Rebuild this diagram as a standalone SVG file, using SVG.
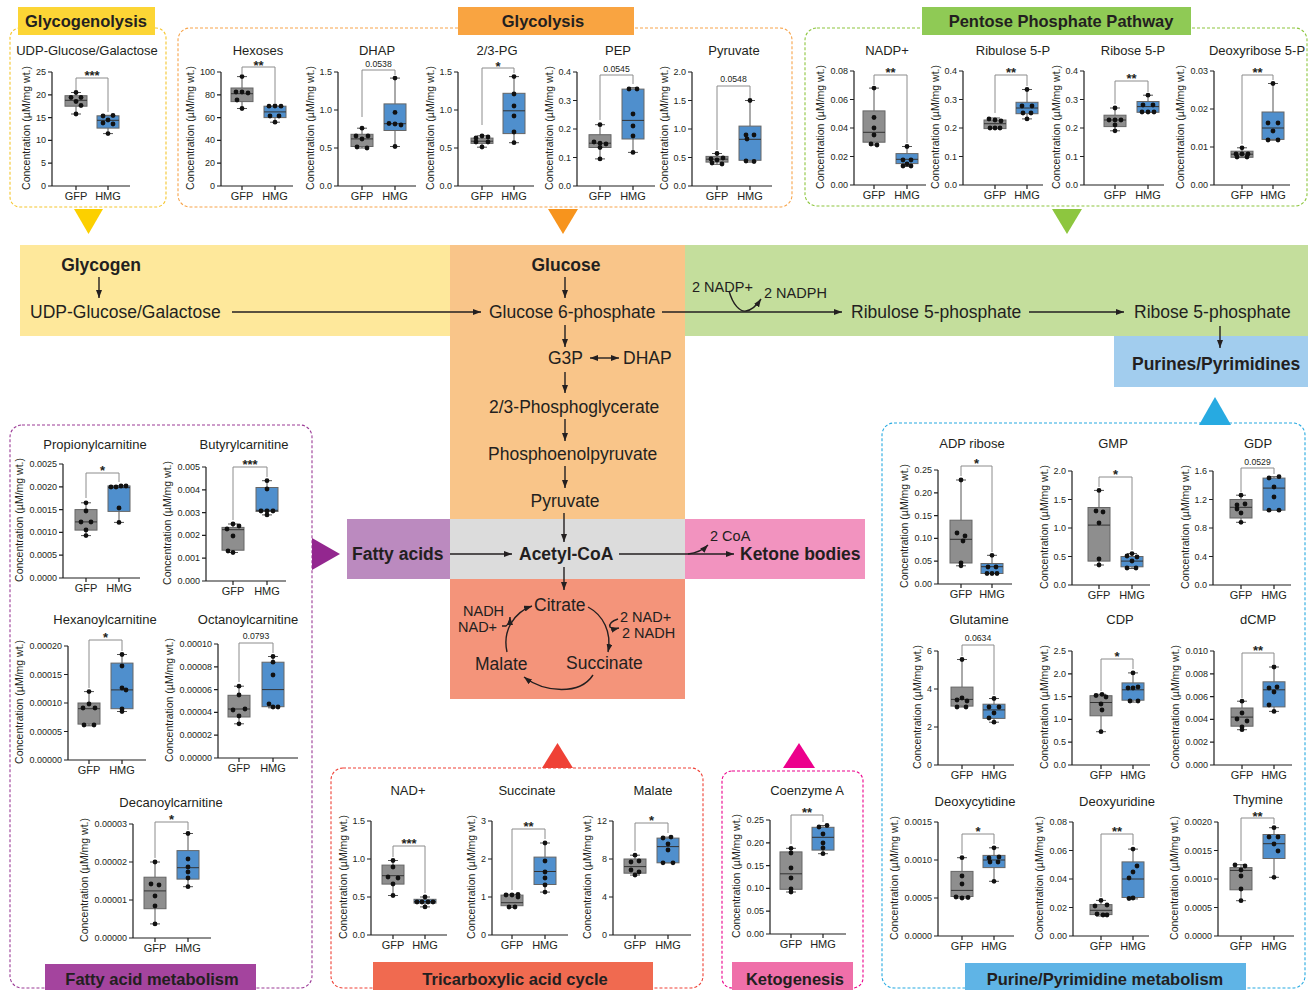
<svg xmlns="http://www.w3.org/2000/svg" xmlns:xlink="http://www.w3.org/1999/xlink" width="1309" height="990" viewBox="0 0 1309 990">
<style>
text{font-family:"Liberation Sans",Arial,sans-serif;fill:#231f20}
.ti{font-size:13px;text-anchor:middle}
.yl{font-size:10.5px;text-anchor:middle}
.tk{font-size:9px;text-anchor:end}
.xl{font-size:11px;text-anchor:middle}
.sg{font-size:13px;font-weight:bold;text-anchor:middle}
.pv{font-size:8.7px;text-anchor:middle}
.ax{fill:none;stroke:#1f1f1f;stroke-width:1.2}
.wk{fill:none;stroke:#555;stroke-width:1}
.bg{fill:#8e8e8e;stroke:#666;stroke-width:1}
.bb{fill:#4f8fcd;stroke:#666;stroke-width:1}
.md{fill:none;stroke:#333;stroke-width:1}
.br{fill:none;stroke:#8c8c8c;stroke-width:1}
.hd{font-size:16.5px;font-weight:bold;text-anchor:middle}
.mt{font-size:17.5px}
.mb{font-size:17.5px;font-weight:bold}
.sm{font-size:14.5px}
.ar{fill:none;stroke:#231f20;stroke-width:1.4;marker-end:url(#ah)}
.pd{fill:none;stroke-width:1.1;stroke-dasharray:3 2}
</style>
<defs>
<marker id="ah" viewBox="0 0 8 6" markerWidth="8" markerHeight="6" markerUnits="userSpaceOnUse" refX="8" refY="3" orient="auto-start-reverse"><path d="M0,0L8,3L0,6z" fill="#231f20"/></marker>
<circle id="d" r="2.4" fill="#111"/>
</defs>
<rect width="1309" height="990" fill="#fff"/>

<g id="bands">
<rect x="20" y="245" width="430" height="91" fill="#fee89b"/>
<rect x="450" y="245" width="235" height="274" fill="#f9c589"/>
<rect x="685" y="245" width="623" height="91" fill="#c4de9c"/>
<rect x="1114" y="336" width="194" height="51" fill="#a2cdee"/>
<rect x="347" y="519" width="103" height="60" fill="#bb8abf"/>
<rect x="450" y="519" width="235" height="60" fill="#dcdcdc"/>
<rect x="685" y="519" width="180" height="60" fill="#f293bf"/>
<rect x="450" y="579" width="235" height="120" fill="#f4947a"/>
</g>

<g id="connectors">
<path class="ar" d="M99,277V298"/>
<path class="ar" d="M232,312H481"/>
<path class="ar" d="M565,277V298"/>
<path class="ar" d="M662,312H842"/>
<path class="ar" d="M729,291C733,305 740,312 746,311C752,310 757,305 761,299"/>
<path class="ar" d="M1029,312H1124"/>
<path class="ar" d="M1220,326V348"/>
<path class="ar" d="M565,325V347"/>
<path class="ar" d="M590,358H619" marker-start="url(#ah)"/>
<path class="ar" d="M565,372V393"/>
<path class="ar" d="M565,419V441"/>
<path class="ar" d="M565,466V488"/>
<path class="ar" d="M564,513V542"/>
<path class="ar" d="M450,554H512"/>
<path class="ar" d="M619,554H734"/>
<path class="ar" d="M688,554C697,553 703,550 708,545"/>
<path class="ar" d="M564,567V590"/>
<path class="ar" d="M588,607C603,615 612,632 608,652"/>
<path class="ar" d="M593,675C580,695 545,693 524,677"/>
<path class="ar" d="M507,652C502,630 515,612 532,606"/>
<path class="ar" d="M502,626H506C509,624 510,621 510,617"/>
<path class="ar" d="M618,619C612,621 609,624 610,627C612,629 615,629 619,628"/>
</g>

<g id="pathway-labels">
<text class="mb" x="101" y="271" text-anchor="middle">Glycogen</text>
<text class="mt" x="30" y="318">UDP-Glucose/Galactose</text>
<text class="mb" x="566" y="271" text-anchor="middle">Glucose</text>
<text class="mt" x="489" y="318">Glucose 6-phosphate</text>
<text class="sm" x="692" y="292">2 NADP+</text>
<text class="sm" x="764" y="298">2 NADPH</text>
<text class="mt" x="851" y="318">Ribulose 5-phosphate</text>
<text class="mt" x="1134" y="318">Ribose 5-phosphate</text>
<text class="mb" x="1132" y="370">Purines/Pyrimidines</text>
<text class="mt" x="548" y="364">G3P</text>
<text class="mt" x="623" y="364">DHAP</text>
<text class="mt" x="489" y="413">2/3-Phosphoglycerate</text>
<text class="mt" x="488" y="460">Phosphoenolpyruvate</text>
<text class="mt" x="565" y="507" text-anchor="middle">Pyruvate</text>
<text class="mb" x="352" y="560">Fatty acids</text>
<text class="mb" x="519" y="560">Acetyl-CoA</text>
<text class="sm" x="710" y="541">2 CoA</text>
<text class="mb" x="740" y="560">Ketone bodies</text>
<text class="mt" x="534" y="611">Citrate</text>
<text class="mt" x="566" y="669">Succinate</text>
<text class="mt" x="475" y="670">Malate</text>
<text class="sm" x="463" y="616">NADH</text>
<text class="sm" x="458" y="632">NAD+</text>
<text class="sm" x="620" y="622">2 NAD+</text>
<text class="sm" x="622" y="638">2 NADH</text>
</g>

<g id="panel-glycogenolysis">
<rect class="pd" x="10" y="28" width="156" height="179" rx="10" stroke="#f5c62e"/>
<rect x="18" y="7" width="137" height="28" fill="#fcd535"/>
<text class="hd" x="86" y="27">Glycogenolysis</text>
<path d="M74,209H103L88.5,234z" fill="#fcd000"/>
</g>
<g id="panel-glycolysis">
<rect class="pd" x="178" y="28" width="614" height="179" rx="12" stroke="#f7a44a"/>
<rect x="458" y="7" width="176" height="28" fill="#f9a441"/>
<text class="hd" x="543" y="27">Glycolysis</text>
<path d="M548,209H578L563,234z" fill="#f7941d"/>
</g>
<g id="panel-ppp">
<rect class="pd" x="805" y="28" width="502" height="178" rx="12" stroke="#8dc63f"/>
<rect x="922" y="7" width="269" height="28" fill="#8fca55"/>
<text class="hd" x="1061" y="27">Pentose Phosphate Pathway</text>
<path d="M1052,209H1082L1067,234z" fill="#8dc63f"/>
</g>
<g id="panel-fatty">
<rect class="pd" x="10" y="425" width="302" height="563" rx="12" stroke="#9b3b96"/>
<path d="M312,538V570L340,554z" fill="#93278f"/>
</g>
<g id="panel-tca">
<rect class="pd" x="331" y="768" width="372" height="220" rx="12" stroke="#ef4136"/>
<path d="M542,768H573L557.5,743z" fill="#ef4136"/>
</g>
<g id="panel-keto">
<rect class="pd" x="722" y="771" width="141" height="217" rx="10" stroke="#ec008c"/>
<path d="M783,768H815L799,743z" fill="#ec008c"/>
</g>
<g id="panel-purine">
<rect class="pd" x="882" y="423" width="423" height="565" rx="12" stroke="#27aae1"/>
<path d="M1199,425H1231L1215,397z" fill="#27aae1"/>
</g>

<g id="plot-udp" transform="translate(52,186)">
<text class="ti" x="35" y="-131">UDP-Glucose/Galactose</text>
<text class="yl" transform="translate(-22,-58) rotate(-90)">Concentration (µM/mg wt.)</text>
<path class="ax" d="M0,-114V0H78M-4,0H0M-4,-22.8H0M-4,-45.6H0M-4,-68.4H0M-4,-91.2H0M-4,-114H0M24,0v4M56,0v4"/>
<text class="tk" x="-6" y="3">0</text><text class="tk" x="-6" y="-19.8">5</text><text class="tk" x="-6" y="-42.6">10</text><text class="tk" x="-6" y="-65.4">15</text><text class="tk" x="-6" y="-88.2">20</text><text class="tk" x="-6" y="-111">25</text>
<path class="wk" d="M24,-93.5V-90.3M24,-79.8V-72M19,-93.5h10M19,-72h10"/>
<rect class="bg" x="13" y="-90.3" width="22" height="10.5"/>
<path class="md" d="M13,-85.7h22"/>
<use href="#d" x="24" y="-93.5"/><use href="#d" x="19" y="-88.5"/><use href="#d" x="29" y="-88.5"/><use href="#d" x="24" y="-84.5"/><use href="#d" x="29" y="-80.5"/><use href="#d" x="24" y="-72"/>
<path class="wk" d="M56,-70.7V-70.2M56,-57.9V-52.4M51,-70.7h10M51,-52.4h10"/>
<rect class="bb" x="45" y="-70.2" width="22" height="12.3"/>
<path class="md" d="M45,-65.7h22"/>
<use href="#d" x="51" y="-70"/><use href="#d" x="61" y="-70.5"/><use href="#d" x="56" y="-66"/><use href="#d" x="51" y="-63"/><use href="#d" x="61" y="-62"/><use href="#d" x="56" y="-52.4"/>
<path class="br" d="M24,-96V-108H56V-74"/>
<text class="sg" x="40" y="-106">***</text>
<text class="xl" x="24" y="14">GFP</text><text class="xl" x="56" y="14">HMG</text>
</g>

<g id="plot-hexoses" transform="translate(221,186)">
<text class="ti" x="37" y="-131">Hexoses</text>
<text class="yl" transform="translate(-27,-58) rotate(-90)">Concentration (µM/mg wt.)</text>
<path class="ax" d="M0,-114V0H72M-4,0H0M-4,-22.8H0M-4,-45.6H0M-4,-68.4H0M-4,-91.2H0M-4,-114H0M21,0v4M54,0v4"/>
<text class="tk" x="-6" y="3">0</text><text class="tk" x="-6" y="-19.8">20</text><text class="tk" x="-6" y="-42.6">40</text><text class="tk" x="-6" y="-65.4">60</text><text class="tk" x="-6" y="-88.2">80</text><text class="tk" x="-6" y="-111">100</text>
<path class="wk" d="M21,-109.4V-98M21,-84.4V-77.5M16,-109.4h10M16,-77.5h10"/>
<rect class="bg" x="10" y="-98" width="22" height="13.6"/>
<path class="md" d="M10,-92.3h22"/>
<use href="#d" x="21" y="-109.4"/><use href="#d" x="15" y="-94"/><use href="#d" x="21" y="-94"/><use href="#d" x="27" y="-93"/><use href="#d" x="16" y="-86"/><use href="#d" x="21" y="-77.5"/>
<path class="wk" d="M54,-68.4V-63.8M49,-79.8h10M49,-63.8h10"/>
<rect class="bb" x="43" y="-79.8" width="22" height="11.4"/>
<path class="md" d="M43,-74.1h22"/>
<use href="#d" x="48" y="-79.8"/><use href="#d" x="54" y="-80"/><use href="#d" x="60" y="-79.8"/><use href="#d" x="49" y="-70"/><use href="#d" x="58" y="-70"/><use href="#d" x="54" y="-63.8"/>
<path class="br" d="M21,-112V-119H54V-83"/>
<text class="sg" x="37.5" y="-116">**</text>
<text class="xl" x="21" y="14">GFP</text><text class="xl" x="54" y="14">HMG</text>
</g>

<g id="plot-dhap" transform="translate(338,186)">
<text class="ti" x="39" y="-131">DHAP</text>
<text class="yl" transform="translate(-24,-58) rotate(-90)">Concentration (µM/mg wt.)</text>
<path class="ax" d="M0,-114V0H78M-4,0H0M-4,-38H0M-4,-76H0M-4,-114H0M24,0v4M57,0v4"/>
<text class="tk" x="-6" y="3">0.0</text><text class="tk" x="-6" y="-35">0.5</text><text class="tk" x="-6" y="-73">1.0</text><text class="tk" x="-6" y="-111">1.5</text>
<path class="wk" d="M24,-57.8V-51.7M24,-39.5V-38M19,-57.8h10M19,-38h10"/>
<rect class="bg" x="13" y="-51.7" width="22" height="12.2"/>
<path class="md" d="M13,-47.1h22"/>
<use href="#d" x="24" y="-57.8"/><use href="#d" x="18" y="-50"/><use href="#d" x="30" y="-50"/><use href="#d" x="24" y="-47"/><use href="#d" x="19" y="-39"/><use href="#d" x="29" y="-38"/>
<path class="wk" d="M57,-107.9V-82.1M57,-55.5V-39.5M52,-107.9h10M52,-39.5h10"/>
<rect class="bb" x="46" y="-82.1" width="22" height="26.6"/>
<path class="md" d="M46,-62.3h22"/>
<use href="#d" x="57" y="-107.9"/><use href="#d" x="57" y="-73.6"/><use href="#d" x="51" y="-62.5"/><use href="#d" x="57" y="-62"/><use href="#d" x="63" y="-61"/><use href="#d" x="57" y="-39.5"/>
<path class="br" d="M24,-69V-116H57V-111"/>
<text class="pv" x="40.5" y="-119">0.0538</text>
<text class="xl" x="24" y="14">GFP</text><text class="xl" x="57" y="14">HMG</text>
</g>

<g id="plot-23pg" transform="translate(458,186)">
<text class="ti" x="39" y="-131">2/3-PG</text>
<text class="yl" transform="translate(-24,-58) rotate(-90)">Concentration (µM/mg wt.)</text>
<path class="ax" d="M0,-114V0H76M-4,0H0M-4,-38H0M-4,-76H0M-4,-114H0M24,0v4M56,0v4"/>
<text class="tk" x="-6" y="3">0.0</text><text class="tk" x="-6" y="-35">0.5</text><text class="tk" x="-6" y="-73">1.0</text><text class="tk" x="-6" y="-111">1.5</text>
<path class="wk" d="M24,-50.2V-47.9M24,-42.6V-38.8M19,-50.2h10M19,-38.8h10"/>
<rect class="bg" x="13" y="-47.9" width="22" height="5.3"/>
<path class="md" d="M13,-44.8h22"/>
<use href="#d" x="18" y="-48"/><use href="#d" x="24" y="-50"/><use href="#d" x="30" y="-49"/><use href="#d" x="18" y="-44"/><use href="#d" x="30" y="-44"/><use href="#d" x="24" y="-39"/>
<path class="wk" d="M56,-109.4V-92.7M56,-52.4V-43.3M51,-109.4h10M51,-43.3h10"/>
<rect class="bb" x="45" y="-92.7" width="22" height="40.3"/>
<path class="md" d="M45,-75.2h22"/>
<use href="#d" x="56" y="-109.4"/><use href="#d" x="56" y="-92"/><use href="#d" x="56" y="-80"/><use href="#d" x="56" y="-70"/><use href="#d" x="56" y="-54"/><use href="#d" x="56" y="-43.3"/>
<path class="br" d="M24,-61V-118H56V-113"/>
<text class="sg" x="40" y="-115">*</text>
<text class="xl" x="24" y="14">GFP</text><text class="xl" x="56" y="14">HMG</text>
</g>

<g id="plot-pep" transform="translate(577,186)">
<text class="ti" x="41" y="-131">PEP</text>
<text class="yl" transform="translate(-24,-58) rotate(-90)">Concentration (µM/mg wt.)</text>
<path class="ax" d="M0,-114V0H78M-4,0H0M-4,-28.5H0M-4,-57H0M-4,-85.5H0M-4,-114H0M23,0v4M56,0v4"/>
<text class="tk" x="-6" y="3">0.0</text><text class="tk" x="-6" y="-25.5">0.1</text><text class="tk" x="-6" y="-54">0.2</text><text class="tk" x="-6" y="-82.5">0.3</text><text class="tk" x="-6" y="-111">0.4</text>
<path class="wk" d="M23,-61.3V-51.3M23,-38.5V-27.1M18,-61.3h10M18,-27.1h10"/>
<rect class="bg" x="12" y="-51.3" width="22" height="12.8"/>
<path class="md" d="M12,-42.8h22"/>
<use href="#d" x="23" y="-61.3"/><use href="#d" x="17" y="-44"/><use href="#d" x="23" y="-42.8"/><use href="#d" x="29" y="-42"/><use href="#d" x="23" y="-38.5"/><use href="#d" x="23" y="-27.1"/>
<path class="wk" d="M56,-98.3V-96.9M56,-47V-33.6M51,-98.3h10M51,-33.6h10"/>
<rect class="bb" x="45" y="-96.9" width="22" height="49.9"/>
<path class="md" d="M45,-65.6h22"/>
<use href="#d" x="52" y="-97"/><use href="#d" x="60" y="-97"/><use href="#d" x="56" y="-72"/><use href="#d" x="56" y="-60"/><use href="#d" x="56" y="-50"/><use href="#d" x="56" y="-33.6"/>
<path class="br" d="M23,-66V-111H56V-102"/>
<text class="pv" x="39.5" y="-114.5">0.0545</text>
<text class="xl" x="23" y="14">GFP</text><text class="xl" x="56" y="14">HMG</text>
</g>

<g id="plot-pyruvate" transform="translate(692,186)">
<text class="ti" x="42" y="-131">Pyruvate</text>
<text class="yl" transform="translate(-24,-58) rotate(-90)">Concentration (µM/mg wt.)</text>
<path class="ax" d="M0,-114V0H80M-4,0H0M-4,-28.5H0M-4,-57H0M-4,-85.5H0M-4,-114H0M25,0v4M58,0v4"/>
<text class="tk" x="-6" y="3">0.0</text><text class="tk" x="-6" y="-25.5">0.5</text><text class="tk" x="-6" y="-54">1.0</text><text class="tk" x="-6" y="-82.5">1.5</text><text class="tk" x="-6" y="-111">2.0</text>
<path class="wk" d="M25,-32.5V-29.6M25,-23.9V-21.7M20,-32.5h10M20,-21.7h10"/>
<rect class="bg" x="14" y="-29.6" width="22" height="5.7"/>
<path class="md" d="M14,-26.8h22"/>
<use href="#d" x="25" y="-32.5"/><use href="#d" x="19" y="-27"/><use href="#d" x="31" y="-28"/><use href="#d" x="25" y="-26"/><use href="#d" x="20" y="-23"/><use href="#d" x="30" y="-22"/>
<path class="wk" d="M58,-85.5V-59.9M58,-25.7V-23.9M53,-85.5h10M53,-23.9h10"/>
<rect class="bb" x="47" y="-59.9" width="22" height="34.2"/>
<path class="md" d="M47,-46.7h22"/>
<use href="#d" x="58" y="-85.5"/><use href="#d" x="54" y="-51"/><use href="#d" x="62" y="-51"/><use href="#d" x="55" y="-47"/><use href="#d" x="54" y="-25"/><use href="#d" x="62" y="-24.5"/>
<path class="br" d="M25,-36V-100H58V-88"/>
<text class="pv" x="41.5" y="-104">0.0548</text>
<text class="xl" x="25" y="14">GFP</text><text class="xl" x="58" y="14">HMG</text>
</g>

<g id="plot-nadp" transform="translate(854,185)">
<text class="ti" x="33" y="-130">NADP+</text>
<text class="yl" transform="translate(-30,-58) rotate(-90)">Concentration (µM/mg wt.)</text>
<path class="ax" d="M0,-114V0H72M-4,0H0M-4,-28.5H0M-4,-57H0M-4,-85.5H0M-4,-114H0M20,0v4M53,0v4"/>
<text class="tk" x="-6" y="3">0.00</text><text class="tk" x="-6" y="-25.5">0.02</text><text class="tk" x="-6" y="-54">0.04</text><text class="tk" x="-6" y="-82.5">0.06</text><text class="tk" x="-6" y="-111">0.08</text>
<path class="wk" d="M20,-96.9V-74.1M20,-42.8V-39.9M15,-96.9h10M15,-39.9h10"/>
<rect class="bg" x="9" y="-74.1" width="22" height="31.3"/>
<path class="md" d="M9,-52.7h22"/>
<use href="#d" x="20" y="-96.9"/><use href="#d" x="20" y="-67.5"/><use href="#d" x="20" y="-57"/><use href="#d" x="20" y="-50"/><use href="#d" x="17" y="-41"/><use href="#d" x="23" y="-40"/>
<path class="wk" d="M53,-38.5V-31.4M53,-21.4V-18.5M48,-38.5h10M48,-18.5h10"/>
<rect class="bb" x="42" y="-31.4" width="22" height="10"/>
<path class="md" d="M42,-25.7h22"/>
<use href="#d" x="53" y="-38.5"/><use href="#d" x="49" y="-25"/><use href="#d" x="57" y="-25"/><use href="#d" x="53" y="-21"/><use href="#d" x="49" y="-19"/><use href="#d" x="57" y="-19"/>
<path class="br" d="M20,-100V-110H53V-42"/>
<text class="sg" x="36.5" y="-108">**</text>
<text class="xl" x="20" y="14">GFP</text><text class="xl" x="53" y="14">HMG</text>
</g>

<g id="plot-ribulose" transform="translate(963,185)">
<text class="ti" x="50" y="-130">Ribulose 5-P</text>
<text class="yl" transform="translate(-24,-58) rotate(-90)">Concentration (µM/mg wt.)</text>
<path class="ax" d="M0,-114V0H80M-4,0H0M-4,-28.5H0M-4,-57H0M-4,-85.5H0M-4,-114H0M32,0v4M64,0v4"/>
<text class="tk" x="-6" y="3">0.0</text><text class="tk" x="-6" y="-25.5">0.1</text><text class="tk" x="-6" y="-54">0.2</text><text class="tk" x="-6" y="-82.5">0.3</text><text class="tk" x="-6" y="-111">0.4</text>
<path class="wk" d="M32,-67V-65M27,-67h10M27,-56.4h10"/>
<rect class="bg" x="21" y="-65" width="22" height="8.6"/>
<path class="md" d="M21,-61.3h22"/>
<use href="#d" x="26" y="-66"/><use href="#d" x="32" y="-65"/><use href="#d" x="38" y="-64"/><use href="#d" x="27" y="-57"/><use href="#d" x="32" y="-57"/><use href="#d" x="37" y="-57"/>
<path class="wk" d="M64,-95.5V-82.7M64,-71.3V-66.1M59,-95.5h10M59,-66.1h10"/>
<rect class="bb" x="53" y="-82.7" width="22" height="11.4"/>
<path class="md" d="M53,-77h22"/>
<use href="#d" x="64" y="-95.5"/><use href="#d" x="59" y="-79"/><use href="#d" x="69" y="-79"/><use href="#d" x="60" y="-72"/><use href="#d" x="68" y="-72"/><use href="#d" x="64" y="-66.1"/>
<path class="br" d="M32,-72V-110H64V-99"/>
<text class="sg" x="48" y="-108">**</text>
<text class="xl" x="32" y="14">GFP</text><text class="xl" x="64" y="14">HMG</text>
</g>

<g id="plot-ribose" transform="translate(1084,185)">
<text class="ti" x="49" y="-130">Ribose 5-P</text>
<text class="yl" transform="translate(-24,-58) rotate(-90)">Concentration (µM/mg wt.)</text>
<path class="ax" d="M0,-114V0H80M-4,0H0M-4,-28.5H0M-4,-57H0M-4,-85.5H0M-4,-114H0M31,0v4M64,0v4"/>
<text class="tk" x="-6" y="3">0.0</text><text class="tk" x="-6" y="-25.5">0.1</text><text class="tk" x="-6" y="-54">0.2</text><text class="tk" x="-6" y="-82.5">0.3</text><text class="tk" x="-6" y="-111">0.4</text>
<path class="wk" d="M31,-77V-69.8M31,-58.4V-54.2M26,-77h10M26,-54.2h10"/>
<rect class="bg" x="20" y="-69.8" width="22" height="11.4"/>
<path class="md" d="M20,-65h22"/>
<use href="#d" x="31" y="-77"/><use href="#d" x="25" y="-65"/><use href="#d" x="31" y="-65"/><use href="#d" x="37" y="-65"/><use href="#d" x="31" y="-60"/><use href="#d" x="31" y="-54.2"/>
<path class="wk" d="M64,-89.8V-83.5M59,-89.8h10M59,-72.7h10"/>
<rect class="bb" x="53" y="-83.5" width="22" height="10.8"/>
<path class="md" d="M53,-78.4h22"/>
<use href="#d" x="64" y="-89.8"/><use href="#d" x="59" y="-80"/><use href="#d" x="69" y="-80"/><use href="#d" x="58" y="-73"/><use href="#d" x="64" y="-73"/><use href="#d" x="70" y="-73"/>
<path class="br" d="M31,-81V-104H64V-93"/>
<text class="sg" x="47.5" y="-102">**</text>
<text class="xl" x="31" y="14">GFP</text><text class="xl" x="64" y="14">HMG</text>
</g>

<g id="plot-deoxyribose" transform="translate(1214,185)">
<text class="ti" x="43" y="-130">Deoxyribose 5-P</text>
<text class="yl" transform="translate(-30,-58) rotate(-90)">Concentration (µM/mg wt.)</text>
<path class="ax" d="M0,-114V0H76M-4,0H0M-4,-38H0M-4,-76H0M-4,-114H0M28,0v4M59,0v4"/>
<text class="tk" x="-6" y="3">0.00</text><text class="tk" x="-6" y="-35">0.01</text><text class="tk" x="-6" y="-73">0.02</text><text class="tk" x="-6" y="-111">0.03</text>
<path class="wk" d="M28,-37.2V-33.8M28,-27.7V-27.4M23,-37.2h10M23,-27.4h10"/>
<rect class="bg" x="17" y="-33.8" width="22" height="6.1"/>
<path class="md" d="M17,-30.8h22"/>
<use href="#d" x="28" y="-37.2"/><use href="#d" x="22" y="-31"/><use href="#d" x="28" y="-31"/><use href="#d" x="34" y="-31"/><use href="#d" x="23" y="-28"/><use href="#d" x="33" y="-28"/>
<path class="wk" d="M59,-101.5V-73M59,-45.6V-44.8M54,-101.5h10M54,-44.8h10"/>
<rect class="bb" x="48" y="-73" width="22" height="27.4"/>
<path class="md" d="M48,-57h22"/>
<use href="#d" x="59" y="-101.5"/><use href="#d" x="54" y="-62"/><use href="#d" x="64" y="-62"/><use href="#d" x="59" y="-54"/><use href="#d" x="54" y="-45"/><use href="#d" x="64" y="-45"/>
<path class="br" d="M28,-41V-110H59V-105"/>
<text class="sg" x="43.5" y="-108">**</text>
<text class="xl" x="28" y="14">GFP</text><text class="xl" x="59" y="14">HMG</text>
</g>

<g id="plot-propionyl" transform="translate(63,578)">
<text class="ti" x="32" y="-129">Propionylcarnitine</text>
<text class="yl" transform="translate(-40,-58) rotate(-90)">Concentration (µM/mg wt.)</text>
<path class="ax" d="M0,-114V0H77M-4,0H0M-4,-22.8H0M-4,-45.6H0M-4,-68.4H0M-4,-91.2H0M-4,-114H0M23,0v4M56,0v4"/>
<text class="tk" x="-6" y="3">0.0000</text><text class="tk" x="-6" y="-19.8">0.0005</text><text class="tk" x="-6" y="-42.6">0.0010</text><text class="tk" x="-6" y="-65.4">0.0015</text><text class="tk" x="-6" y="-88.2">0.0020</text><text class="tk" x="-6" y="-111">0.0025</text>
<path class="wk" d="M23,-75.2V-68.4M23,-47.9V-42.4M18,-75.2h10M18,-42.4h10"/>
<rect class="bg" x="12" y="-68.4" width="22" height="20.5"/>
<path class="md" d="M12,-56.1h22"/>
<use href="#d" x="23" y="-75.2"/><use href="#d" x="23" y="-67"/><use href="#d" x="18" y="-56"/><use href="#d" x="28" y="-56"/><use href="#d" x="23" y="-48"/><use href="#d" x="23" y="-42.4"/>
<path class="wk" d="M56,-66.6V-55.6M51,-92.1h10M51,-55.6h10"/>
<rect class="bb" x="45" y="-92.1" width="22" height="25.5"/>
<path class="md" d="M45,-90.3h22"/>
<use href="#d" x="48" y="-91"/><use href="#d" x="53" y="-91"/><use href="#d" x="58" y="-92"/><use href="#d" x="63" y="-92"/><use href="#d" x="56" y="-70"/><use href="#d" x="56" y="-55.6"/>
<path class="br" d="M23,-80V-105H56V-96"/>
<text class="sg" x="39.5" y="-103">*</text>
<text class="xl" x="23" y="14">GFP</text><text class="xl" x="56" y="14">HMG</text>
</g>

<g id="plot-butyryl" transform="translate(206,581)">
<text class="ti" x="38" y="-132">Butyrylcarnitine</text>
<text class="yl" transform="translate(-35,-58) rotate(-90)">Concentration (µM/mg wt.)</text>
<path class="ax" d="M0,-114V0H80M-4,0H0M-4,-22.8H0M-4,-45.6H0M-4,-68.4H0M-4,-91.2H0M-4,-114H0M27,0v4M61,0v4"/>
<text class="tk" x="-6" y="3">0.000</text><text class="tk" x="-6" y="-19.8">0.001</text><text class="tk" x="-6" y="-42.6">0.002</text><text class="tk" x="-6" y="-65.4">0.003</text><text class="tk" x="-6" y="-88.2">0.004</text><text class="tk" x="-6" y="-111">0.005</text>
<path class="wk" d="M27,-57V-53.6M27,-30.8V-28.5M22,-57h10M22,-28.5h10"/>
<rect class="bg" x="16" y="-53.6" width="22" height="22.8"/>
<path class="md" d="M16,-51.3h22"/>
<use href="#d" x="27" y="-57"/><use href="#d" x="21" y="-52"/><use href="#d" x="33" y="-55"/><use href="#d" x="27" y="-45"/><use href="#d" x="22" y="-30"/><use href="#d" x="27" y="-28.5"/>
<path class="wk" d="M61,-100.3V-93.5M61,-69.5V-66.1M56,-100.3h10M56,-66.1h10"/>
<rect class="bb" x="50" y="-93.5" width="22" height="24"/>
<path class="md" d="M50,-70.7h22"/>
<use href="#d" x="61" y="-100.3"/><use href="#d" x="61" y="-92"/><use href="#d" x="55" y="-70"/><use href="#d" x="61" y="-70"/><use href="#d" x="67" y="-70"/><use href="#d" x="61" y="-66.1"/>
<path class="br" d="M27,-61V-114H61V-104"/>
<text class="sg" x="44" y="-112">***</text>
<text class="xl" x="27" y="14">GFP</text><text class="xl" x="61" y="14">HMG</text>
</g>

<g id="plot-hexanoyl" transform="translate(68,760)">
<text class="ti" x="37" y="-136">Hexanoylcarnitine</text>
<text class="yl" transform="translate(-45,-58) rotate(-90)">Concentration (µM/mg wt.)</text>
<path class="ax" d="M0,-114V0H78M-4,0H0M-4,-28.5H0M-4,-57H0M-4,-85.5H0M-4,-114H0M21,0v4M54,0v4"/>
<text class="tk" x="-6" y="3">0.00000</text><text class="tk" x="-6" y="-25.5">0.00005</text><text class="tk" x="-6" y="-54">0.00010</text><text class="tk" x="-6" y="-82.5">0.00015</text><text class="tk" x="-6" y="-111">0.00020</text>
<path class="wk" d="M21,-68.4V-57M21,-35.9V-34.2M16,-68.4h10M16,-34.2h10"/>
<rect class="bg" x="10" y="-57" width="22" height="21.1"/>
<path class="md" d="M10,-51.3h22"/>
<use href="#d" x="21" y="-68.4"/><use href="#d" x="21" y="-56"/><use href="#d" x="15" y="-52"/><use href="#d" x="27" y="-52"/><use href="#d" x="16" y="-35"/><use href="#d" x="26" y="-35"/>
<path class="wk" d="M54,-105.5V-96.9M54,-51.3V-48.5M49,-105.5h10M49,-48.5h10"/>
<rect class="bb" x="43" y="-96.9" width="22" height="45.6"/>
<path class="md" d="M43,-70.1h22"/>
<use href="#d" x="54" y="-105.5"/><use href="#d" x="54" y="-94"/><use href="#d" x="54" y="-72"/><use href="#d" x="58" y="-70"/><use href="#d" x="54" y="-51"/><use href="#d" x="54" y="-48.5"/>
<path class="br" d="M21,-72V-120H54V-109"/>
<text class="sg" x="37.5" y="-118">*</text>
<text class="xl" x="21" y="14">GFP</text><text class="xl" x="54" y="14">HMG</text>
</g>

<g id="plot-octanoyl" transform="translate(218,758)">
<text class="ti" x="30" y="-134">Octanoylcarnitine</text>
<text class="yl" transform="translate(-45,-58) rotate(-90)">Concentration (µM/mg wt.)</text>
<path class="ax" d="M0,-114V0H80M-4,0H0M-4,-22.8H0M-4,-45.6H0M-4,-68.4H0M-4,-91.2H0M-4,-114H0M21,0v4M55,0v4"/>
<text class="tk" x="-6" y="3">0.00000</text><text class="tk" x="-6" y="-19.8">0.00002</text><text class="tk" x="-6" y="-42.6">0.00004</text><text class="tk" x="-6" y="-65.4">0.00006</text><text class="tk" x="-6" y="-88.2">0.00008</text><text class="tk" x="-6" y="-111">0.00010</text>
<path class="wk" d="M21,-71.8V-62.7M21,-41V-34.2M16,-71.8h10M16,-34.2h10"/>
<rect class="bg" x="10" y="-62.7" width="22" height="21.7"/>
<path class="md" d="M10,-49h22"/>
<use href="#d" x="21" y="-71.8"/><use href="#d" x="21" y="-63"/><use href="#d" x="15" y="-48"/><use href="#d" x="27" y="-49"/><use href="#d" x="21" y="-42"/><use href="#d" x="21" y="-34.2"/>
<path class="wk" d="M55,-101.5V-95.8M55,-51.3V-50.2M50,-101.5h10M50,-50.2h10"/>
<rect class="bb" x="44" y="-95.8" width="22" height="44.5"/>
<path class="md" d="M44,-68.4h22"/>
<use href="#d" x="55" y="-101.5"/><use href="#d" x="55" y="-95.8"/><use href="#d" x="55" y="-83"/><use href="#d" x="51" y="-54"/><use href="#d" x="55" y="-51"/><use href="#d" x="60" y="-51"/>
<path class="br" d="M21,-76V-115H55V-105"/>
<text class="pv" x="38" y="-119">0.0793</text>
<text class="xl" x="21" y="14">GFP</text><text class="xl" x="55" y="14">HMG</text>
</g>

<g id="plot-decanoyl" transform="translate(133,938)">
<text class="ti" x="38" y="-131">Decanoylcarnitine</text>
<text class="yl" transform="translate(-45,-58) rotate(-90)">Concentration (µM/mg wt.)</text>
<path class="ax" d="M0,-114V0H78M-4,0H0M-4,-38H0M-4,-76H0M-4,-114H0M22,0v4M55,0v4"/>
<text class="tk" x="-6" y="3">0.00000</text><text class="tk" x="-6" y="-35">0.00001</text><text class="tk" x="-6" y="-73">0.00002</text><text class="tk" x="-6" y="-111">0.00003</text>
<path class="wk" d="M22,-76V-60.8M22,-29.3V-14.1M17,-76h10M17,-14.1h10"/>
<rect class="bg" x="11" y="-60.8" width="22" height="31.5"/>
<path class="md" d="M11,-47.1h22"/>
<use href="#d" x="22" y="-76"/><use href="#d" x="18" y="-54"/><use href="#d" x="26" y="-53"/><use href="#d" x="22" y="-42"/><use href="#d" x="22" y="-32"/><use href="#d" x="22" y="-14.1"/>
<path class="wk" d="M55,-104.5V-87.4M55,-58.9V-51.3M50,-104.5h10M50,-51.3h10"/>
<rect class="bb" x="44" y="-87.4" width="22" height="28.5"/>
<path class="md" d="M44,-70.3h22"/>
<use href="#d" x="55" y="-104.5"/><use href="#d" x="55" y="-79"/><use href="#d" x="55" y="-71"/><use href="#d" x="55" y="-66"/><use href="#d" x="55" y="-60"/><use href="#d" x="55" y="-51.3"/>
<path class="br" d="M22,-80V-116H55V-108"/>
<text class="sg" x="38.5" y="-114">*</text>
<text class="xl" x="22" y="14">GFP</text><text class="xl" x="55" y="14">HMG</text>
</g>

<g id="plot-nad" transform="translate(371,935)">
<text class="ti" x="37" y="-140">NAD+</text>
<text class="yl" transform="translate(-24,-58) rotate(-90)">Concentration (µM/mg wt.)</text>
<path class="ax" d="M0,-114V0H76M-4,0H0M-4,-38H0M-4,-76H0M-4,-114H0M22,0v4M54,0v4"/>
<text class="tk" x="-6" y="3">0.0</text><text class="tk" x="-6" y="-35">0.5</text><text class="tk" x="-6" y="-73">1.0</text><text class="tk" x="-6" y="-111">1.5</text>
<path class="wk" d="M22,-74.5V-69.9M22,-50.9V-39.5M17,-74.5h10M17,-39.5h10"/>
<rect class="bg" x="11" y="-69.9" width="22" height="19"/>
<path class="md" d="M11,-59.3h22"/>
<use href="#d" x="22" y="-74.5"/><use href="#d" x="22" y="-68"/><use href="#d" x="17" y="-58"/><use href="#d" x="27" y="-57"/><use href="#d" x="22" y="-51"/><use href="#d" x="22" y="-39.5"/>
<path class="wk" d="M54,-38V-35.7M54,-31.9V-28.1M49,-38h10M49,-28.1h10"/>
<rect class="bb" x="43" y="-35.7" width="22" height="3.8"/>
<path class="md" d="M43,-33.4h22"/>
<use href="#d" x="54" y="-38"/><use href="#d" x="46" y="-33"/><use href="#d" x="51" y="-33"/><use href="#d" x="57" y="-33"/><use href="#d" x="62" y="-33"/><use href="#d" x="54" y="-28.1"/>
<path class="br" d="M22,-78V-89H54V-42"/>
<text class="sg" x="38" y="-87">***</text>
<text class="xl" x="22" y="14">GFP</text><text class="xl" x="54" y="14">HMG</text>
</g>

<g id="plot-succinate" transform="translate(492,935)">
<text class="ti" x="35" y="-140">Succinate</text>
<text class="yl" transform="translate(-17,-58) rotate(-90)">Concentration (µM/mg wt.)</text>
<path class="ax" d="M0,-114V0H76M-4,0H0M-4,-38H0M-4,-76H0M-4,-114H0M20,0v4M53,0v4"/>
<text class="tk" x="-6" y="3">0</text><text class="tk" x="-6" y="-35">1</text><text class="tk" x="-6" y="-73">2</text><text class="tk" x="-6" y="-111">3</text>
<path class="wk" d="M20,-40.7V-39.9M20,-29.3V-27.4M15,-40.7h10M15,-27.4h10"/>
<rect class="bg" x="9" y="-39.9" width="22" height="10.6"/>
<path class="md" d="M9,-32.3h22"/>
<use href="#d" x="14" y="-40"/><use href="#d" x="20" y="-40"/><use href="#d" x="26" y="-40.7"/><use href="#d" x="26" y="-38"/><use href="#d" x="17" y="-28"/><use href="#d" x="23" y="-28"/>
<path class="wk" d="M53,-92V-77.9M53,-50.5V-42.9M48,-92h10M48,-42.9h10"/>
<rect class="bb" x="42" y="-77.9" width="22" height="27.4"/>
<path class="md" d="M42,-63.5h22"/>
<use href="#d" x="53" y="-92"/><use href="#d" x="53" y="-74"/><use href="#d" x="53" y="-63"/><use href="#d" x="53" y="-57"/><use href="#d" x="53" y="-50"/><use href="#d" x="53" y="-42.9"/>
<path class="br" d="M20,-45V-106H53V-96"/>
<text class="sg" x="36.5" y="-104">**</text>
<text class="xl" x="20" y="14">GFP</text><text class="xl" x="53" y="14">HMG</text>
</g>

<g id="plot-malate" transform="translate(613,935)">
<text class="ti" x="40" y="-140">Malate</text>
<text class="yl" transform="translate(-22,-58) rotate(-90)">Concentration (µM/mg wt.)</text>
<path class="ax" d="M0,-114V0H78M-4,0H0M-4,-38H0M-4,-76H0M-4,-114H0M22,0v4M55,0v4"/>
<text class="tk" x="-6" y="3">0</text><text class="tk" x="-6" y="-35">4</text><text class="tk" x="-6" y="-73">8</text><text class="tk" x="-6" y="-111">12</text>
<path class="wk" d="M22,-79.8V-76M22,-61.8V-59.9M17,-79.8h10M17,-59.9h10"/>
<rect class="bg" x="11" y="-76" width="22" height="14.2"/>
<path class="md" d="M11,-68.4h22"/>
<use href="#d" x="22" y="-79.8"/><use href="#d" x="18" y="-73"/><use href="#d" x="26" y="-74"/><use href="#d" x="18" y="-65"/><use href="#d" x="26" y="-63"/><use href="#d" x="22" y="-60"/>
<path class="wk" d="M55,-97.9V-96.9M50,-97.9h10M50,-72.2h10"/>
<rect class="bb" x="44" y="-96.9" width="22" height="24.7"/>
<path class="md" d="M44,-88.4h22"/>
<use href="#d" x="50" y="-97"/><use href="#d" x="58" y="-97.9"/><use href="#d" x="55" y="-91"/><use href="#d" x="55" y="-85"/><use href="#d" x="50" y="-72.2"/><use href="#d" x="60" y="-72.2"/>
<path class="br" d="M22,-84V-112H55V-102"/>
<text class="sg" x="38.5" y="-110">*</text>
<text class="xl" x="22" y="14">GFP</text><text class="xl" x="55" y="14">HMG</text>
</g>

<g id="plot-coa" transform="translate(770,934)">
<text class="ti" x="37" y="-139">Coenzyme A</text>
<text class="yl" transform="translate(-30,-58) rotate(-90)">Concentration (µM/mg wt.)</text>
<path class="ax" d="M0,-114V0H76M-4,0H0M-4,-22.8H0M-4,-45.6H0M-4,-68.4H0M-4,-91.2H0M-4,-114H0M21,0v4M53,0v4"/>
<text class="tk" x="-6" y="3">0.00</text><text class="tk" x="-6" y="-19.8">0.05</text><text class="tk" x="-6" y="-42.6">0.10</text><text class="tk" x="-6" y="-65.4">0.15</text><text class="tk" x="-6" y="-88.2">0.20</text><text class="tk" x="-6" y="-111">0.25</text>
<path class="wk" d="M21,-85.7V-82.1M21,-44.7V-42M16,-85.7h10M16,-42h10"/>
<rect class="bg" x="10" y="-82.1" width="22" height="37.4"/>
<path class="md" d="M10,-60.2h22"/>
<use href="#d" x="21" y="-85.7"/><use href="#d" x="21" y="-81"/><use href="#d" x="21" y="-66"/><use href="#d" x="21" y="-56"/><use href="#d" x="21" y="-45"/><use href="#d" x="21" y="-42"/>
<path class="wk" d="M53,-108.5V-106.7M53,-83.9V-80.3M48,-108.5h10M48,-80.3h10"/>
<rect class="bb" x="42" y="-106.7" width="22" height="22.8"/>
<path class="md" d="M42,-96.7h22"/>
<use href="#d" x="49" y="-107"/><use href="#d" x="57" y="-108.5"/><use href="#d" x="53" y="-100"/><use href="#d" x="53" y="-91"/><use href="#d" x="53" y="-86"/><use href="#d" x="53" y="-80.3"/>
<path class="br" d="M21,-90V-119H53V-112"/>
<text class="sg" x="37" y="-117">**</text>
<text class="xl" x="21" y="14">GFP</text><text class="xl" x="53" y="14">HMG</text>
</g>

<g id="plot-adpribose" transform="translate(938,584)">
<text class="ti" x="34" y="-136">ADP ribose</text>
<text class="yl" transform="translate(-30,-58) rotate(-90)">Concentration (µM/mg wt.)</text>
<path class="ax" d="M0,-114V0H74M-4,0H0M-4,-22.8H0M-4,-45.6H0M-4,-68.4H0M-4,-91.2H0M-4,-114H0M23,0v4M54,0v4"/>
<text class="tk" x="-6" y="3">0.00</text><text class="tk" x="-6" y="-19.8">0.05</text><text class="tk" x="-6" y="-42.6">0.10</text><text class="tk" x="-6" y="-65.4">0.15</text><text class="tk" x="-6" y="-88.2">0.20</text><text class="tk" x="-6" y="-111">0.25</text>
<path class="wk" d="M23,-104V-63.8M23,-21V-18.2M18,-104h10M18,-18.2h10"/>
<rect class="bg" x="12" y="-63.8" width="22" height="42.8"/>
<path class="md" d="M12,-44.7h22"/>
<use href="#d" x="23" y="-104"/><use href="#d" x="19" y="-51"/><use href="#d" x="27" y="-48"/><use href="#d" x="25" y="-43"/><use href="#d" x="23" y="-21"/><use href="#d" x="23" y="-18.2"/>
<path class="wk" d="M54,-28.7V-20.5M49,-28.7h10M49,-10.5h10"/>
<rect class="bb" x="43" y="-20.5" width="22" height="10"/>
<path class="md" d="M43,-17.3h22"/>
<use href="#d" x="54" y="-28.7"/><use href="#d" x="50" y="-17"/><use href="#d" x="58" y="-17"/><use href="#d" x="49" y="-10.5"/><use href="#d" x="54" y="-10.5"/><use href="#d" x="59" y="-10.5"/>
<path class="br" d="M23,-108V-118H54V-32"/>
<text class="sg" x="38.5" y="-116">*</text>
<text class="xl" x="23" y="14">GFP</text><text class="xl" x="54" y="14">HMG</text>
</g>

<g id="plot-gmp" transform="translate(1072,585)">
<text class="ti" x="41" y="-137">GMP</text>
<text class="yl" transform="translate(-24,-58) rotate(-90)">Concentration (µM/mg wt.)</text>
<path class="ax" d="M0,-114V0H78M-4,0H0M-4,-28.5H0M-4,-57H0M-4,-85.5H0M-4,-114H0M27,0v4M60,0v4"/>
<text class="tk" x="-6" y="3">0.0</text><text class="tk" x="-6" y="-25.5">0.5</text><text class="tk" x="-6" y="-54">1.0</text><text class="tk" x="-6" y="-82.5">1.5</text><text class="tk" x="-6" y="-111">2.0</text>
<path class="wk" d="M27,-94.6V-77.5M27,-23.9V-20M22,-94.6h10M22,-20h10"/>
<rect class="bg" x="16" y="-77.5" width="22" height="53.6"/>
<path class="md" d="M16,-59.9h22"/>
<use href="#d" x="27" y="-94.6"/><use href="#d" x="24" y="-74"/><use href="#d" x="31" y="-73"/><use href="#d" x="27" y="-62"/><use href="#d" x="27" y="-26"/><use href="#d" x="27" y="-20"/>
<path class="wk" d="M60,-31.4V-28.5M60,-18.2V-16.5M55,-31.4h10M55,-16.5h10"/>
<rect class="bb" x="49" y="-28.5" width="22" height="10.3"/>
<path class="md" d="M49,-23.9h22"/>
<use href="#d" x="55" y="-29"/><use href="#d" x="60" y="-31.4"/><use href="#d" x="65" y="-28"/><use href="#d" x="60" y="-24"/><use href="#d" x="55" y="-17"/><use href="#d" x="64" y="-17"/>
<path class="br" d="M27,-98V-108H60V-35"/>
<text class="sg" x="43.5" y="-106">*</text>
<text class="xl" x="27" y="14">GFP</text><text class="xl" x="60" y="14">HMG</text>
</g>

<g id="plot-gdp" transform="translate(1213,585)">
<text class="ti" x="45" y="-137">GDP</text>
<text class="yl" transform="translate(-24,-58) rotate(-90)">Concentration (µM/mg wt.)</text>
<path class="ax" d="M0,-114V0H78M-4,0H0M-4,-28.5H0M-4,-57H0M-4,-85.5H0M-4,-114H0M28,0v4M61,0v4"/>
<text class="tk" x="-6" y="3">0.0</text><text class="tk" x="-6" y="-25.5">0.4</text><text class="tk" x="-6" y="-54">0.8</text><text class="tk" x="-6" y="-82.5">1.2</text><text class="tk" x="-6" y="-111">1.6</text>
<path class="wk" d="M28,-89.8V-85.5M28,-67V-62.7M23,-89.8h10M23,-62.7h10"/>
<rect class="bg" x="17" y="-85.5" width="22" height="18.5"/>
<path class="md" d="M17,-77.7h22"/>
<use href="#d" x="28" y="-89.8"/><use href="#d" x="24" y="-80"/><use href="#d" x="32" y="-81"/><use href="#d" x="24" y="-76"/><use href="#d" x="28" y="-72"/><use href="#d" x="28" y="-62.7"/>
<path class="wk" d="M61,-108.3V-106.9M56,-108.3h10M56,-74.8h10"/>
<rect class="bb" x="50" y="-106.9" width="22" height="32.1"/>
<path class="md" d="M50,-96.9h22"/>
<use href="#d" x="56" y="-107"/><use href="#d" x="66" y="-108.3"/><use href="#d" x="61" y="-98"/><use href="#d" x="61" y="-88"/><use href="#d" x="56" y="-74.8"/><use href="#d" x="66" y="-74.8"/>
<path class="br" d="M28,-93V-117H61V-111"/>
<text class="pv" x="44.5" y="-120">0.0529</text>
<text class="xl" x="28" y="14">GFP</text><text class="xl" x="61" y="14">HMG</text>
</g>

<g id="plot-glutamine" transform="translate(938,765)">
<text class="ti" x="41" y="-141">Glutamine</text>
<text class="yl" transform="translate(-17,-58) rotate(-90)">Concentration (µM/mg wt.)</text>
<path class="ax" d="M0,-114V0H76M-4,0H0M-4,-38H0M-4,-76H0M-4,-114H0M24,0v4M56,0v4"/>
<text class="tk" x="-6" y="3">0</text><text class="tk" x="-6" y="-35">2</text><text class="tk" x="-6" y="-73">4</text><text class="tk" x="-6" y="-111">6</text>
<path class="wk" d="M24,-105.5V-77.9M24,-58.9V-58M19,-105.5h10M19,-58h10"/>
<rect class="bg" x="13" y="-77.9" width="22" height="19"/>
<path class="md" d="M13,-65.6h22"/>
<use href="#d" x="24" y="-105.5"/><use href="#d" x="19" y="-65"/><use href="#d" x="24" y="-67"/><use href="#d" x="29" y="-64"/><use href="#d" x="19" y="-58"/><use href="#d" x="28" y="-58"/>
<path class="wk" d="M56,-66.5V-60.8M56,-46.6V-42.8M51,-66.5h10M51,-42.8h10"/>
<rect class="bb" x="45" y="-60.8" width="22" height="14.2"/>
<path class="md" d="M45,-55.1h22"/>
<use href="#d" x="56" y="-66.5"/><use href="#d" x="51" y="-58"/><use href="#d" x="61" y="-58"/><use href="#d" x="56" y="-52"/><use href="#d" x="51" y="-47"/><use href="#d" x="56" y="-42.8"/>
<path class="br" d="M24,-109V-120H56V-70"/>
<text class="pv" x="40" y="-124">0.0634</text>
<text class="xl" x="24" y="14">GFP</text><text class="xl" x="56" y="14">HMG</text>
</g>

<g id="plot-cdp" transform="translate(1072,765)">
<text class="ti" x="48" y="-141">CDP</text>
<text class="yl" transform="translate(-24,-58) rotate(-90)">Concentration (µM/mg wt.)</text>
<path class="ax" d="M0,-114V0H78M-4,0H0M-4,-22.8H0M-4,-45.6H0M-4,-68.4H0M-4,-91.2H0M-4,-114H0M29,0v4M61,0v4"/>
<text class="tk" x="-6" y="3">0.0</text><text class="tk" x="-6" y="-19.8">0.5</text><text class="tk" x="-6" y="-42.6">1.0</text><text class="tk" x="-6" y="-65.4">1.5</text><text class="tk" x="-6" y="-88.2">2.0</text><text class="tk" x="-6" y="-111">2.5</text>
<path class="wk" d="M29,-70.7V-69.3M29,-49.2V-33.3M24,-70.7h10M24,-33.3h10"/>
<rect class="bg" x="18" y="-69.3" width="22" height="20.1"/>
<path class="md" d="M18,-62.5h22"/>
<use href="#d" x="24" y="-69.5"/><use href="#d" x="30" y="-70.7"/><use href="#d" x="34" y="-68"/><use href="#d" x="29" y="-61"/><use href="#d" x="30" y="-55"/><use href="#d" x="29" y="-33.3"/>
<path class="wk" d="M61,-92.1V-82.1M61,-64.8V-62.9M56,-92.1h10M56,-62.9h10"/>
<rect class="bb" x="50" y="-82.1" width="22" height="17.3"/>
<path class="md" d="M50,-75.2h22"/>
<use href="#d" x="61" y="-92.1"/><use href="#d" x="56" y="-77"/><use href="#d" x="61" y="-77"/><use href="#d" x="66" y="-78"/><use href="#d" x="58" y="-64"/><use href="#d" x="66" y="-64"/>
<path class="br" d="M29,-74V-106H61V-96"/>
<text class="sg" x="45" y="-104">*</text>
<text class="xl" x="29" y="14">GFP</text><text class="xl" x="61" y="14">HMG</text>
</g>

<g id="plot-dcmp" transform="translate(1214,765)">
<text class="ti" x="44" y="-141">dCMP</text>
<text class="yl" transform="translate(-35,-58) rotate(-90)">Concentration (µM/mg wt.)</text>
<path class="ax" d="M0,-114V0H78M-4,0H0M-4,-22.8H0M-4,-45.6H0M-4,-68.4H0M-4,-91.2H0M-4,-114H0M28,0v4M60,0v4"/>
<text class="tk" x="-6" y="3">0.000</text><text class="tk" x="-6" y="-19.8">0.002</text><text class="tk" x="-6" y="-42.6">0.004</text><text class="tk" x="-6" y="-65.4">0.006</text><text class="tk" x="-6" y="-88.2">0.008</text><text class="tk" x="-6" y="-111">0.010</text>
<path class="wk" d="M28,-63.8V-57M28,-38.8V-35.3M23,-63.8h10M23,-35.3h10"/>
<rect class="bg" x="17" y="-57" width="22" height="18.2"/>
<path class="md" d="M17,-47.9h22"/>
<use href="#d" x="28" y="-63.8"/><use href="#d" x="28" y="-52"/><use href="#d" x="23" y="-46"/><use href="#d" x="33" y="-44"/><use href="#d" x="28" y="-38"/><use href="#d" x="28" y="-35.3"/>
<path class="wk" d="M60,-98V-83.2M60,-58.1V-53.6M55,-98h10M55,-53.6h10"/>
<rect class="bb" x="49" y="-83.2" width="22" height="25.1"/>
<path class="md" d="M49,-75.2h22"/>
<use href="#d" x="60" y="-98"/><use href="#d" x="55" y="-77"/><use href="#d" x="63" y="-78"/><use href="#d" x="60" y="-73"/><use href="#d" x="55" y="-60"/><use href="#d" x="60" y="-53.6"/>
<path class="br" d="M28,-67V-112H60V-101"/>
<text class="sg" x="44" y="-110">**</text>
<text class="xl" x="28" y="14">GFP</text><text class="xl" x="60" y="14">HMG</text>
</g>

<g id="plot-deoxycytidine" transform="translate(938,936)">
<text class="ti" x="37" y="-130">Deoxycytidine</text>
<text class="yl" transform="translate(-40,-58) rotate(-90)">Concentration (µM/mg wt.)</text>
<path class="ax" d="M0,-114V0H76M-4,0H0M-4,-38H0M-4,-76H0M-4,-114H0M24,0v4M56,0v4"/>
<text class="tk" x="-6" y="3">0.0000</text><text class="tk" x="-6" y="-35">0.0005</text><text class="tk" x="-6" y="-73">0.0010</text><text class="tk" x="-6" y="-111">0.0015</text>
<path class="wk" d="M24,-78.3V-64.6M24,-39.5V-38M19,-78.3h10M19,-38h10"/>
<rect class="bg" x="13" y="-64.6" width="22" height="25.1"/>
<path class="md" d="M13,-45.6h22"/>
<use href="#d" x="24" y="-78.3"/><use href="#d" x="24" y="-60"/><use href="#d" x="24" y="-52"/><use href="#d" x="18" y="-39"/><use href="#d" x="24" y="-38"/><use href="#d" x="30" y="-38.5"/>
<path class="wk" d="M56,-88.2V-80.6M56,-68.4V-54.7M51,-88.2h10M51,-54.7h10"/>
<rect class="bb" x="45" y="-80.6" width="22" height="12.2"/>
<path class="md" d="M45,-76h22"/>
<use href="#d" x="56" y="-88.2"/><use href="#d" x="51" y="-78"/><use href="#d" x="61" y="-79"/><use href="#d" x="52" y="-74"/><use href="#d" x="60" y="-74"/><use href="#d" x="56" y="-54.7"/>
<path class="br" d="M24,-82V-102H56V-92"/>
<text class="sg" x="40" y="-100">*</text>
<text class="xl" x="24" y="14">GFP</text><text class="xl" x="56" y="14">HMG</text>
</g>

<g id="plot-deoxyuridine" transform="translate(1073,936)">
<text class="ti" x="44" y="-130">Deoxyuridine</text>
<text class="yl" transform="translate(-30,-58) rotate(-90)">Concentration (µM/mg wt.)</text>
<path class="ax" d="M0,-114V0H76M-4,0H0M-4,-28.5H0M-4,-57H0M-4,-85.5H0M-4,-114H0M28,0v4M60,0v4"/>
<text class="tk" x="-6" y="3">0.00</text><text class="tk" x="-6" y="-25.5">0.02</text><text class="tk" x="-6" y="-54">0.04</text><text class="tk" x="-6" y="-82.5">0.06</text><text class="tk" x="-6" y="-111">0.08</text>
<path class="wk" d="M28,-35.6V-31.4M28,-21.4V-20M23,-35.6h10M23,-20h10"/>
<rect class="bg" x="17" y="-31.4" width="22" height="10"/>
<path class="md" d="M17,-25.7h22"/>
<use href="#d" x="28" y="-35.6"/><use href="#d" x="22" y="-30"/><use href="#d" x="34" y="-31"/><use href="#d" x="24" y="-22"/><use href="#d" x="30" y="-21"/><use href="#d" x="34" y="-21"/>
<path class="wk" d="M60,-86.9V-74.1M60,-38.5V-37.1M55,-86.9h10M55,-37.1h10"/>
<rect class="bb" x="49" y="-74.1" width="22" height="35.6"/>
<path class="md" d="M49,-57h22"/>
<use href="#d" x="60" y="-86.9"/><use href="#d" x="64" y="-70"/><use href="#d" x="60" y="-64"/><use href="#d" x="56" y="-58"/><use href="#d" x="60" y="-38"/><use href="#d" x="56" y="-37.5"/>
<path class="br" d="M28,-39V-102H60V-91"/>
<text class="sg" x="44" y="-100">**</text>
<text class="xl" x="28" y="14">GFP</text><text class="xl" x="60" y="14">HMG</text>
</g>

<g id="plot-thymine" transform="translate(1218,936)">
<text class="ti" x="40" y="-132">Thymine</text>
<text class="yl" transform="translate(-40,-58) rotate(-90)">Concentration (µM/mg wt.)</text>
<path class="ax" d="M0,-114V0H76M-4,0H0M-4,-28.5H0M-4,-57H0M-4,-85.5H0M-4,-114H0M23,0v4M56,0v4"/>
<text class="tk" x="-6" y="3">0.0000</text><text class="tk" x="-6" y="-25.5">0.0005</text><text class="tk" x="-6" y="-54">0.0010</text><text class="tk" x="-6" y="-82.5">0.0015</text><text class="tk" x="-6" y="-111">0.0020</text>
<path class="wk" d="M23,-71.3V-68.4M23,-46.2V-35.3M18,-71.3h10M18,-35.3h10"/>
<rect class="bg" x="12" y="-68.4" width="22" height="22.2"/>
<path class="md" d="M12,-65.6h22"/>
<use href="#d" x="17" y="-71"/><use href="#d" x="27" y="-70"/><use href="#d" x="23" y="-66"/><use href="#d" x="23" y="-60"/><use href="#d" x="23" y="-47"/><use href="#d" x="23" y="-35.3"/>
<path class="wk" d="M56,-108.3V-101.5M56,-77.5V-58.7M51,-108.3h10M51,-58.7h10"/>
<rect class="bb" x="45" y="-101.5" width="22" height="24"/>
<path class="md" d="M45,-92.3h22"/>
<use href="#d" x="56" y="-108.3"/><use href="#d" x="51" y="-99"/><use href="#d" x="60" y="-99"/><use href="#d" x="56" y="-92"/><use href="#d" x="60" y="-85"/><use href="#d" x="56" y="-58.7"/>
<path class="br" d="M23,-75V-118H56V-112"/>
<text class="sg" x="39.5" y="-115">**</text>
<text class="xl" x="23" y="14">GFP</text><text class="xl" x="56" y="14">HMG</text>
</g>

<g id="hdr-fatty"><rect x="45" y="964" width="211" height="26" fill="#a4449e"/><text class="hd" x="152" y="985">Fatty acid metabolism</text></g>
<g id="hdr-tca"><rect x="373" y="962" width="280" height="28" fill="#f06a50"/><text class="hd" x="515" y="985">Tricarboxylic acid cycle</text></g>
<g id="hdr-keto"><rect x="732" y="962" width="121" height="28" fill="#ef6fa9"/><text class="hd" x="795" y="985">Ketogenesis</text></g>
<g id="hdr-purine"><rect x="965" y="963" width="281" height="27" fill="#5fb4e6"/><text class="hd" x="1105" y="985">Purine/Pyrimidine metabolism</text></g>
</svg>
